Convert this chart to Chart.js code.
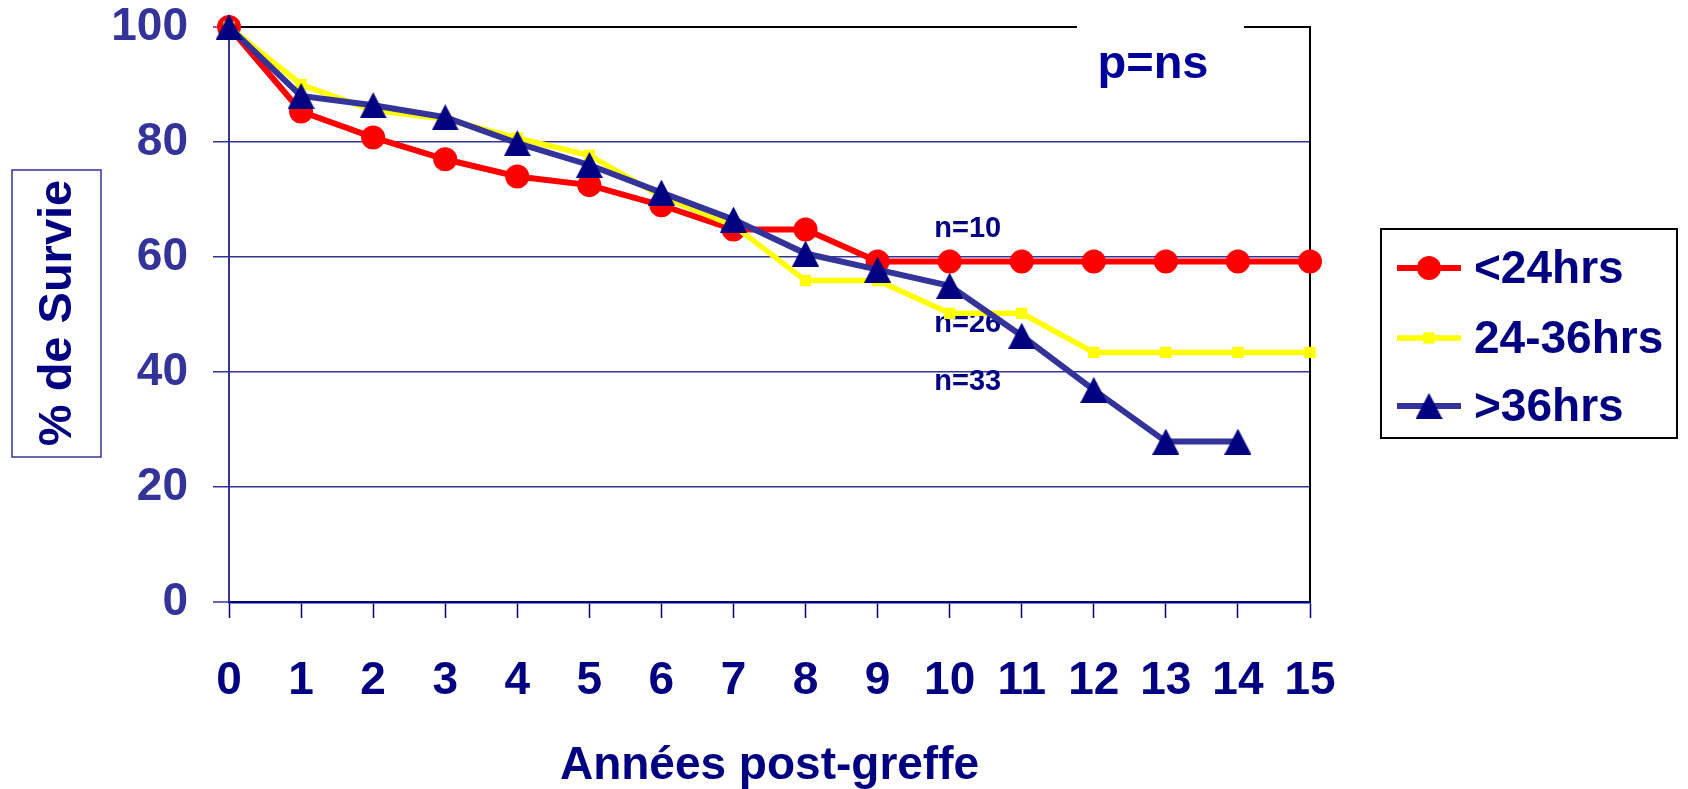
<!DOCTYPE html>
<html lang="fr">
<head>
<meta charset="utf-8">
<title>% de Survie</title>
<script src="https://cdn.jsdelivr.net/npm/chart.js@4.4.0/dist/chart.umd.min.js"></script>
<style>
  html, body { margin: 0; padding: 0; background: #ffffff; }
  #graphique { display: block; }
</style>
</head>
<body>
<canvas id="graphique" width="1688" height="789"></canvas>
<script>
//années post-greffe (axe x)
var annees = ['0', '1', '2', '3', '4', '5', '6', '7', '8', '9', '10', '11', '12', '13', '14', '15'];

//% de survie par groupe
var moins24 = [100, 85.3, 80.8, 77.0, 74.0, 72.5, 69.0, 64.8, 64.8, 59.2, 59.2, 59.2, 59.2, 59.2, 59.2, 59.2];
var entre24et36 = [100, 90.0, 85.5, 84.0, 80.7, 77.7, 70.5, 65.5, 55.9, 55.9, 50.2, 50.2, 43.4, 43.4, 43.4, 43.4];
var plus36 = [100, 88.0, 86.4, 84.3, 79.8, 76.0, 71.2, 66.5, 60.6, 57.8, 55.0, 46.3, 36.9, 27.9, 27.9];

var nomsSeries = ['<24hrs', '24-36hrs', '>36hrs'];

//effectifs écrits sur le graphique
var effectifs = ['n=10', 'n=26', 'n=33'];

var police = '"Liberation Sans", Arial, sans-serif';
var marine = '#000080';
var ardoise = '#333399';

//triangle centré (comme Excel) pour la série >36hrs
var triangle = document.createElement('canvas');
triangle.width = 27;
triangle.height = 26;
var tc = triangle.getContext('2d');
tc.fillStyle = marine;
tc.beginPath();
tc.moveTo(13.5, 0);
tc.lineTo(27, 26);
tc.lineTo(0, 26);
tc.closePath();
tc.fill();

//textes et cadres dessinés à la main
var decor = {
    id: 'decor',
    beforeDatasetsDraw: function(chart) {
        var ctx = chart.ctx;
        var a = chart.chartArea;
        var sx = chart.scales.x;
        var sy = chart.scales.y;
        ctx.save();

        //bord droit
        ctx.strokeStyle = '#000000';
        ctx.lineWidth = 2;
        ctx.beginPath();
        ctx.moveTo(a.right, a.top - 1);
        ctx.lineTo(a.right, a.bottom);
        ctx.stroke();

        //boîte p=ns qui coupe le bord du haut
        ctx.fillStyle = '#ffffff';
        ctx.fillRect(1077, 0, 167, 100);
        ctx.fillStyle = '#000099';
        ctx.font = 'bold 47px ' + police;
        ctx.textAlign = 'center';
        ctx.textBaseline = 'alphabetic';
        ctx.fillText('p=ns', 1153, 78);

        //n=...
        var pos = [[10.25, 64.9], [10.25, 48.3], [10.25, 38.2]];
        ctx.font = 'bold 29px ' + police;
        ctx.fillStyle = marine;
        ctx.textBaseline = 'middle';
        for (var i = 0; i < effectifs.length; i++) {
            var px = sx.getPixelForValue(10) + (sx.getPixelForValue(11) - sx.getPixelForValue(10)) * (pos[i][0] - 10);
            ctx.fillText(effectifs[i], px, sy.getPixelForValue(pos[i][1]));
        }
        ctx.restore();
    },
    afterDraw: function(chart) {
        var ctx = chart.ctx;
        ctx.save();

        //titre axe y dans un cadre
        ctx.strokeStyle = ardoise;
        ctx.lineWidth = 1.5;
        ctx.strokeRect(12, 170, 89, 287);
        ctx.translate(56, 313);
        ctx.rotate(-Math.PI / 2);
        ctx.fillStyle = marine;
        ctx.font = 'bold 47px ' + police;
        ctx.textAlign = 'center';
        ctx.textBaseline = 'middle';
        ctx.fillText('% de Survie', 0, 2);
        ctx.setTransform(1, 0, 0, 1, 0, 0);

        //légende
        ctx.strokeStyle = '#000000';
        ctx.lineWidth = 2;
        ctx.strokeRect(1381, 229, 296, 209);
        var ys = [268, 338, 406];
        chart.data.datasets.forEach(function(ds, i) {
            var y = ys[i];
            ctx.strokeStyle = ds.borderColor;
            ctx.lineWidth = ds.borderWidth;
            ctx.beginPath();
            ctx.moveTo(1397, y);
            ctx.lineTo(1461, y);
            ctx.stroke();
            ctx.fillStyle = ds.pointBackgroundColor;
            if (ds.pointStyle === 'circle') {
                ctx.beginPath();
                ctx.arc(1429, y, ds.pointRadius, 0, Math.PI * 2);
                ctx.fill();
            } else if (ds.pointStyle === 'rect') {
                var s = ds.pointRadius * Math.SQRT1_2;
                ctx.fillRect(1429 - s, y - s, 2 * s, 2 * s);
            } else {
                ctx.drawImage(ds.pointStyle, 1429 - ds.pointStyle.width / 2, y - ds.pointStyle.height / 2);
            }
            ctx.fillStyle = marine;
            ctx.font = 'bold 46px ' + police;
            ctx.textAlign = 'left';
            ctx.textBaseline = 'middle';
            ctx.fillText(ds.label, 1474, y + 2);
        });
        ctx.restore();
    }
};

var data = {
    labels: annees,
    datasets: [{
        label: nomsSeries[0],
        data: moins24,
        borderColor: '#ff0000',
        backgroundColor: '#ff0000',
        pointBackgroundColor: '#ff0000',
        pointBorderColor: '#ff0000',
        pointStyle: 'circle',
        pointRadius: 12,
        pointBorderWidth: 0,
        borderWidth: 6,
        tension: 0,
        clip: false,
        order: 3
    }, {
        label: nomsSeries[1],
        data: entre24et36,
        borderColor: '#ffff00',
        backgroundColor: '#ffff00',
        pointBackgroundColor: '#ffff00',
        pointBorderColor: '#ffff00',
        pointStyle: 'rect',
        pointRadius: 8,
        pointBorderWidth: 0,
        borderWidth: 5.5,
        tension: 0,
        clip: false,
        order: 2
    }, {
        label: nomsSeries[2],
        data: plus36,
        borderColor: ardoise,
        backgroundColor: marine,
        pointBackgroundColor: marine,
        pointBorderColor: marine,
        pointStyle: triangle,
        pointRadius: 14,
        pointBorderWidth: 0,
        borderWidth: 6,
        tension: 0,
        clip: false,
        order: 1
    }]
};

var options = {
    responsive: false,
    animation: false,
    events: [],
    layout: { padding: { left: 0, top: 27, right: 378, bottom: 0 } },
    plugins: {
        legend: { display: false },
        tooltip: { enabled: false }
    },
    scales: {
        x: {
            type: 'category',
            offset: false,
            afterFit: function(s) {
                s.height = 187;
                s.paddingLeft = 0;
                s.paddingRight = 0;
            },
            grid: {
                drawOnChartArea: false,
                drawTicks: true,
                tickLength: 16,
                tickWidth: 1.5,
                tickColor: marine
            },
            border: { color: marine, width: 2.5 },
            ticks: {
                color: marine,
                font: { family: police, size: 46, weight: 'bold', lineHeight: 1 },
                padding: 40,
                maxRotation: 0,
                autoSkip: false
            },
            title: {
                display: true,
                text: 'Années post-greffe',
                color: marine,
                font: { family: police, size: 46, weight: 'bold', lineHeight: 1 },
                padding: { top: 0, bottom: 0 }
            }
        },
        y: {
            min: 0,
            max: 100,
            afterFit: function(s) {
                s.width = 229;
                s.paddingTop = 0;
                s.paddingBottom = 0;
            },
            grid: {
                color: function(c) {
                    if (c.tick && c.tick.value === 100) return '#000000';
                    return ardoise;
                },
                lineWidth: function(c) {
                    if (c.tick && c.tick.value === 100) return 2;
                    if (c.tick && c.tick.value === 0) return 0;
                    return 1.5;
                },
                drawTicks: true,
                tickLength: 16,
                tickColor: ardoise,
                tickWidth: 1.5
            },
            border: { color: ardoise, width: 2 },
            ticks: {
                stepSize: 20,
                color: ardoise,
                font: { family: police, size: 46, weight: 'bold', lineHeight: 1 },
                padding: 25
            }
        }
    }
};

var ctx = document.querySelector('#graphique');
var graphique = new Chart(ctx, {
    type: 'line',
    data: data,
    options: options,
    plugins: [decor]
});
</script>
</body>
</html>
